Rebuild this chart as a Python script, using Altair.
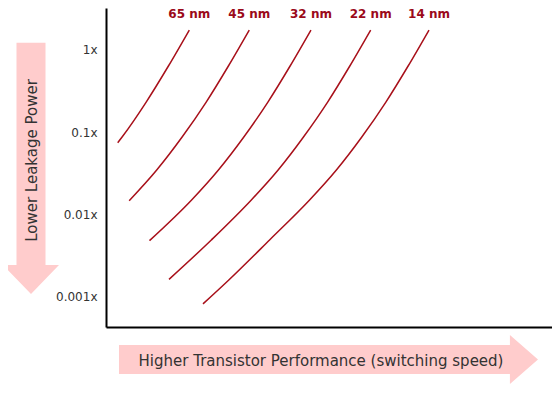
import altair as alt
import pandas as pd

# ---- data ----
nodes = ["65 nm", "45 nm", "32 nm", "22 nm", "14 nm"]

# relative transistor performance (arbitrary linear units)
perf_65 = [1.843, 1.381, 0.889, 0.356, 0.259]
perf_45 = [3.170, 2.708, 2.217, 1.684, 1.122, 0.513]
perf_32 = [4.535, 4.073, 3.582, 3.049, 2.487, 1.894, 0.962]
perf_22 = [5.856, 5.394, 4.903, 4.369, 3.808, 3.215, 2.330, 1.394]
perf_14 = [7.146, 6.684, 6.192, 5.659, 5.097, 4.504, 3.619, 2.717, 2.146]

# relative leakage power (x of reference)
leak_65 = [1.74, 0.636, 0.232, 0.0873, 0.0744]
leak_45 = [1.74, 0.636, 0.232, 0.0873, 0.0347, 0.0147]
leak_32 = [1.74, 0.636, 0.232, 0.0873, 0.0347, 0.0150, 0.00481]
leak_22 = [1.74, 0.636, 0.232, 0.0873, 0.0347, 0.0150, 0.0049, 0.00163]
leak_14 = [1.74, 0.636, 0.232, 0.0873, 0.0347, 0.0150, 0.0049, 0.0016, 0.00082]

y_ticks = [1, 0.1, 0.01, 0.001]

perfs = [perf_65, perf_45, perf_32, perf_22, perf_14]
leaks = [leak_65, leak_45, leak_32, leak_22, leak_14]

rows = []
for node, perf, leak in zip(nodes, perfs, leaks):
    for p, l in zip(perf, leak):
        rows.append({"node": node, "perf": p, "leak": l})
df = pd.DataFrame(rows)
labels_df = pd.DataFrame({"node": nodes, "perf": [p[0] for p in perfs]})
one = pd.DataFrame({"a": [0]})

FONT = "DejaVu Sans"
PINK = "#ffcccc"
LINE = "#a8101a"
LABEL = "#9b0a1a"

x_scale = alt.Scale(domain=[0, 9.867])
y_scale = alt.Scale(type="log", domain=[0.00043, 3.22])

lines = alt.Chart(df).mark_line(
    color=LINE, strokeWidth=1.5, interpolate="monotone"
).encode(
    x=alt.X("perf:Q", scale=x_scale,
            axis=alt.Axis(title=None, labels=False, ticks=False, grid=False,
                          domainColor="black", domainWidth=2)),
    y=alt.Y("leak:Q", scale=y_scale,
            axis=alt.Axis(title=None, values=y_ticks, labelExpr="datum.value + 'x'",
                          ticks=False, grid=False, domainColor="black", domainWidth=2,
                          labelFont=FONT, labelFontSize=12, labelColor="#333",
                          labelPadding=9)),
    detail="node:N",
)

labels = alt.Chart(labels_df).mark_text(
    font=FONT, fontWeight="bold", fontSize=12, color=LABEL, baseline="alphabetic"
).encode(
    x=alt.X("perf:Q", scale=x_scale),
    y=alt.value(9.5),
    text="node:N",
)

v_arrow_path = ("M -0.1154 -1 L 0.1154 -1 L 0.1154 0.769 L 0.2228 0.769 "
                "L 0 1 L -0.2228 0.769 L -0.1154 0.769 Z")
h_arrow_path = ("M -1 -0.0692 L 0.866 -0.0692 L 0.866 -0.1169 L 1 0 "
                "L 0.866 0.1169 L 0.866 0.0692 L -1 0.0692 Z")

v_arrow = alt.Chart(one).mark_point(
    shape=v_arrow_path, size=63152, filled=True, color=PINK, opacity=1, strokeWidth=0
).encode(x=alt.value(-75), y=alt.value(160.35))

h_arrow = alt.Chart(one).mark_point(
    shape=h_arrow_path, size=175561, filled=True, color=PINK, opacity=1, strokeWidth=0
).encode(x=alt.value(222.5), y=alt.value(351.5))

v_text = alt.Chart(one).mark_text(
    text="Lower Leakage Power", angle=270, font=FONT, fontSize=15, color="#333",
    align="center", baseline="middle"
).encode(x=alt.value(-74), y=alt.value(152.5))

h_text = alt.Chart(one).mark_text(
    text="Higher Transistor Performance (switching speed)", font=FONT, fontSize=15,
    color="#333", align="center", baseline="middle"
).encode(x=alt.value(215), y=alt.value(353))

chart = alt.layer(v_arrow, h_arrow, v_text, h_text, lines, labels).properties(
    width=446, height=319,
    padding={"left": 98, "top": 0, "right": 0, "bottom": 57},
    autosize=alt.AutoSizeParams(type="none"),
).configure_view(stroke=None)

chart.save("out.html", embed_options={"renderer": "svg", "actions": False})
